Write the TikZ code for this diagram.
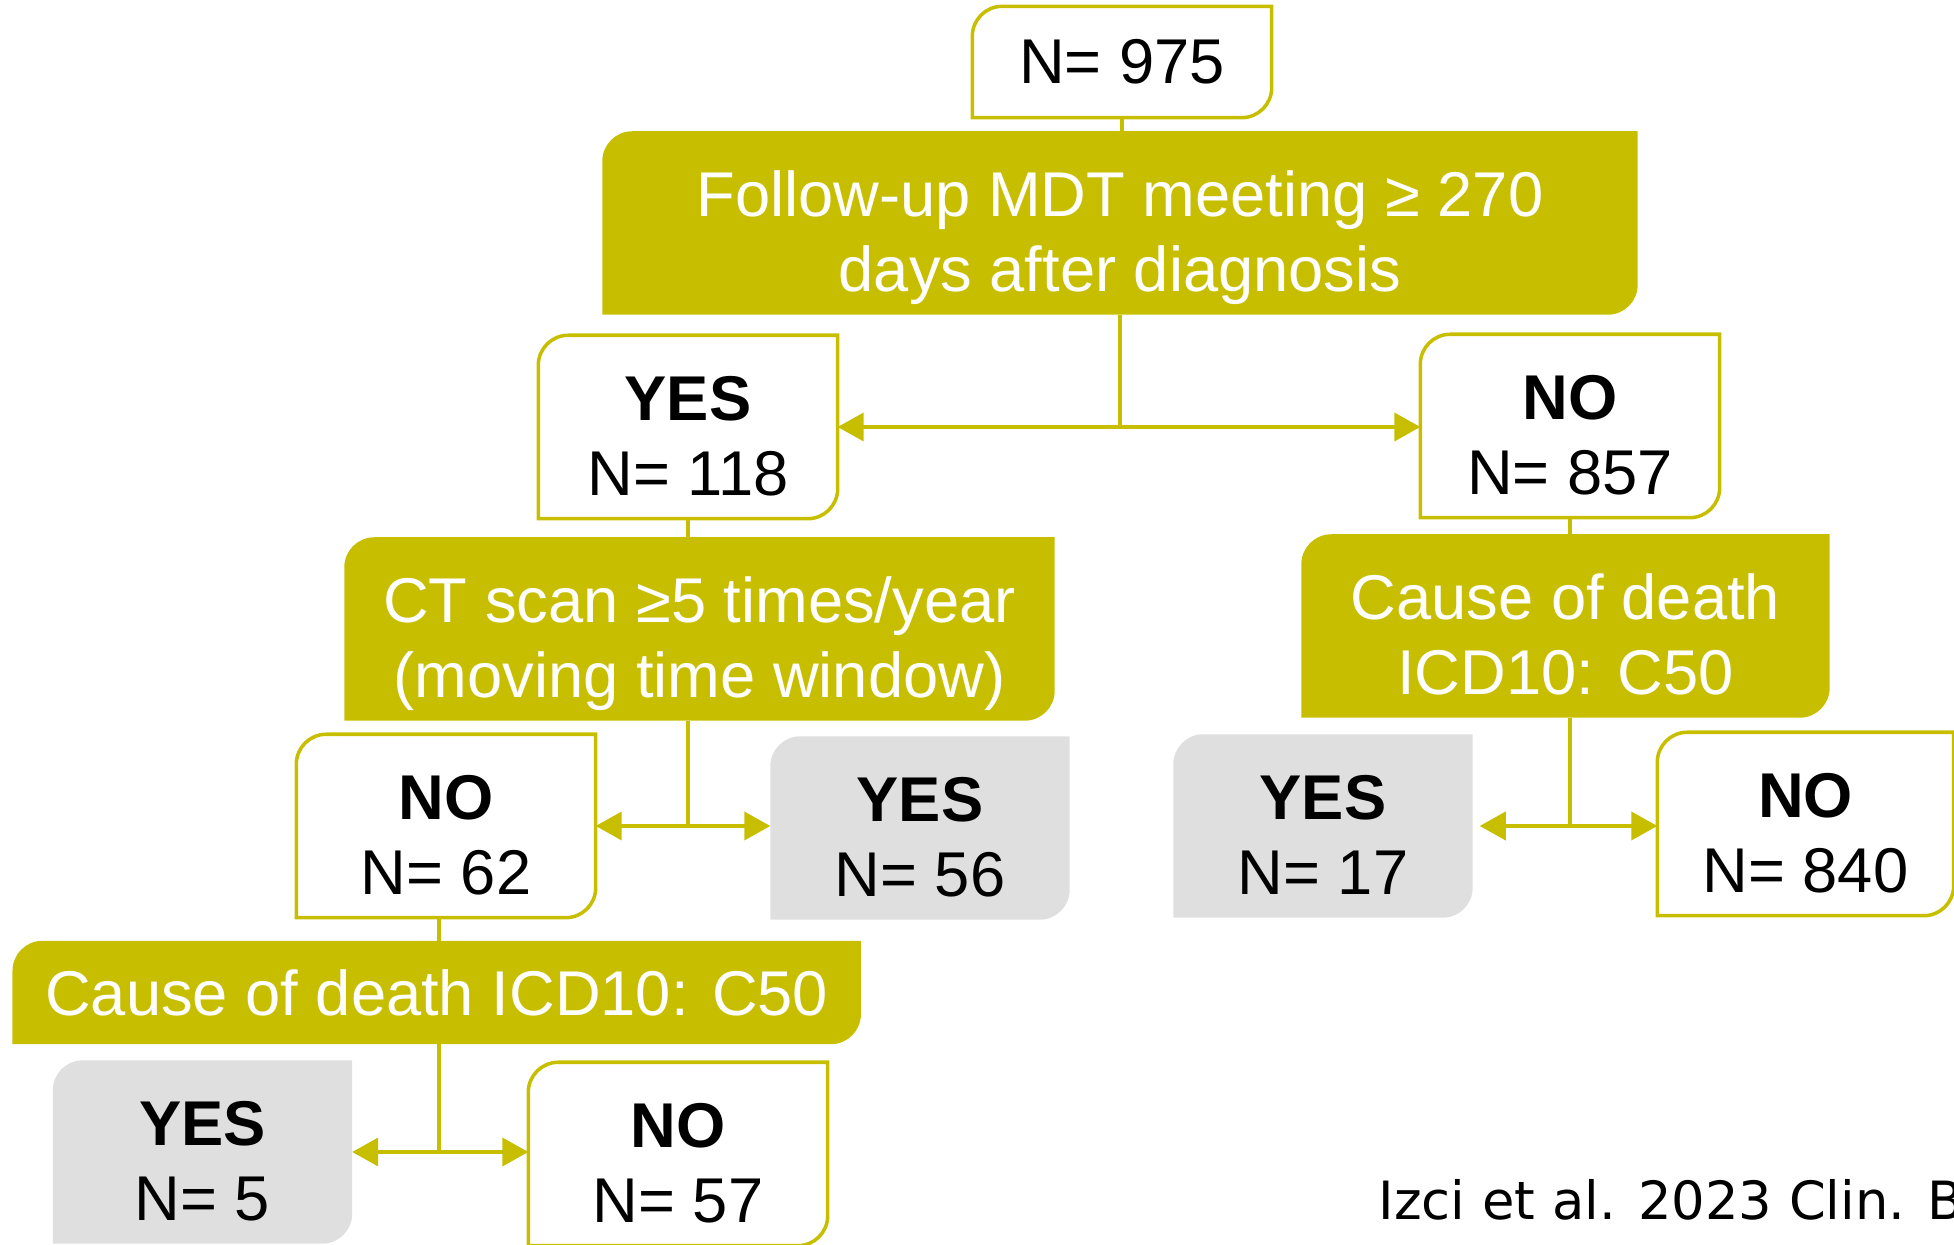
\documentclass[tikz,border=0pt]{standalone}
\usepackage{fontspec}
\setmainfont{Liberation Sans}
\newfontfamily\citefont{DejaVu Sans}
\usetikzlibrary{arrows.meta,backgrounds}

\definecolor{mdtolive}{RGB}{200,190,0}
\definecolor{endgray}{RGB}{223,223,223}
% box outline: top left and bottom right corners rounded
\newcommand{\cornerpath}[1]{([yshift=-3mm]#1.north west) arc[start angle=180,end angle=90,radius=3mm] -- (#1.north east) -- ([yshift=3mm]#1.south east) arc[start angle=0,end angle=-90,radius=3mm] -- (#1.south west) -- cycle}
\newcommand{\upstrut}{\rule{0pt}{24pt}}
\newcommand{\downstrut}{\rule[-6.5pt]{0pt}{6.5pt}}

\begin{document}
\begin{tikzpicture}[every node/.style={font=\fontsize{18}{21.3}\selectfont, inner sep=0pt}, >={Triangle[length=7.4pt,width=8pt]}]
    \tikzstyle{countbox} = [align=center, minimum width=2.98cm, minimum height=1.74cm]
    \tikzstyle{stepbox} = [align=center, text=white]
    \tikzstyle{countshape} = [draw=mdtolive, line width=1pt, fill=white]
    \tikzstyle{stepshape} = [fill=mdtolive]
    \tikzstyle{endshape} = [fill=endgray]
    \tikzstyle{link} = [draw=mdtolive, line width=1pt]

    \useasboundingbox (0,0) rectangle (19.54,12.45);
    \clip (0,0) rectangle (19.54,12.45);

    \node (total) [countbox, minimum height=1.10cm] at (11.22,11.83) {N= 975};
    \node (mdt) [stepbox, minimum width=10.34cm, minimum height=1.72cm] at (11.20,10.22) {\upstrut Follow-up MDT meeting ≥ 270\\days after diagnosis\downstrut};
    \node (yes118) [countbox, minimum height=1.72cm] at (6.88,8.18) {\upstrut\textbf{YES}\\N= 118\downstrut};
    \node (no857) [countbox] at (15.70,8.19) {\upstrut\textbf{NO}\\N= 857\downstrut};
    \node (ct) [stepbox, minimum width=7.09cm, minimum height=1.73cm] at (6.995,6.16) {\upstrut CT scan ≥5 times/year\\(moving time window)\downstrut};
    \node (cod1) [stepbox, minimum width=5.27cm, minimum height=1.71cm] at (15.655,6.19) {\upstrut Cause of death\\ICD10: C50\downstrut};
    \node (no62) [countbox, minimum height=1.76cm] at (4.46,4.19) {\upstrut\textbf{NO}\\N= 62\downstrut};
    \node (yes56) [countbox, minimum height=1.77cm] at (9.20,4.17) {\upstrut\textbf{YES}\\N= 56\downstrut};
    \node (yes17) [countbox, minimum height=1.78cm] at (13.23,4.19) {\upstrut\textbf{YES}\\N= 17\downstrut};
    \node (no840) [countbox, minimum width=2.95cm, minimum height=1.80cm] at (18.055,4.21) {\upstrut\textbf{NO}\\N= 840\downstrut};
    \node (cod2) [stepbox, minimum width=8.47cm, minimum height=1.02cm] at (4.367,2.525) {Cause of death ICD10: C50};
    \node (yes5) [countbox, minimum height=1.81cm] at (2.025,0.93) {\upstrut\textbf{YES}\\N= 5\downstrut};
    \node (no57) [countbox, minimum height=1.78cm] at (6.78,0.91) {\upstrut\textbf{NO}\\N= 57\downstrut};
    \node (cite) [anchor=base west, font=\citefont\fontsize{15}{18}\selectfont] at (13.78,0.25) {Izci et al. 2023 Clin. B};

    % box shapes behind the texts
    \begin{scope}[on background layer]
        \foreach \n in {total,yes118,no857,no62,no840,no57}
            \path[countshape] \cornerpath{\n};
        \foreach \n in {mdt,ct,cod1,cod2}
            \path[stepshape] \cornerpath{\n};
        \foreach \n in {yes56,yes17,yes5}
            \path[endshape] \cornerpath{\n};
    \end{scope}

    \draw [link] (total.south) -- (total.south |- mdt.north);
    \draw [link] (mdt.south) -- (mdt.south |- yes118.east);
    \draw [link, <->] (yes118.east) -- (yes118.east -| no857.west);

    \draw [link] (yes118.south) -- (yes118.south |- ct.north);
    \draw [link] (yes118.south |- ct.south) -- (yes118.south |- no62.east);
    \draw [link, <->] (no62.east) -- (no62.east -| yes56.west);

    \draw [link] (no857.south) -- (no857.south |- cod1.north);
    \draw [link] (no857.south |- cod1.south) -- (no857.south |- yes17.east);
    \draw [link, <->, shorten <=2pt] (yes17.east) -- (yes17.east -| no840.west);

    \draw [link] ([xshift=-0.07cm]no62.south) -- ([xshift=-0.07cm]no62.south |- cod2.north);
    \draw [link] ([xshift=-0.07cm]no62.south |- cod2.south) -- ([xshift=-0.07cm]no62.south |- yes5.east);
    \draw [link, <->] (yes5.east) -- (yes5.east -| no57.west);

\end{tikzpicture}
\end{document}
